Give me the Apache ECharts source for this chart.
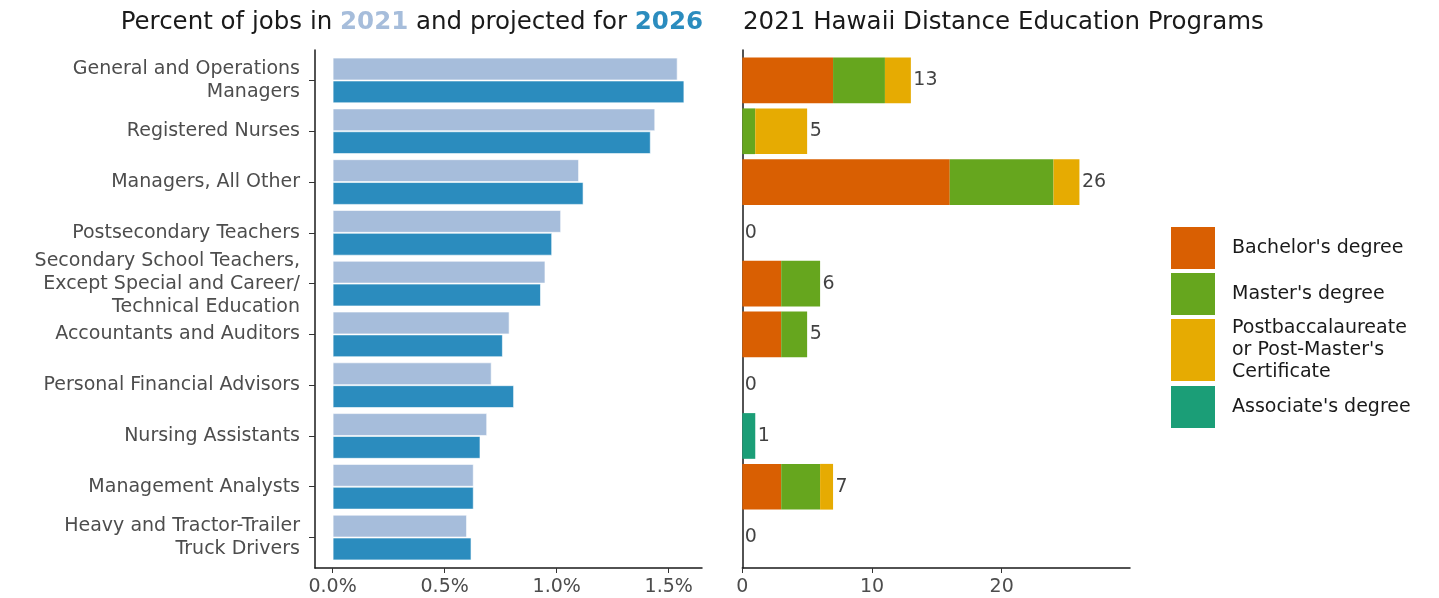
<!DOCTYPE html>
<html><head><meta charset="utf-8">
<script src="https://cdn.jsdelivr.net/npm/echarts@6/dist/echarts.min.js"></script>
<style>html,body{margin:0;padding:0;background:#fff}#c{width:1439px;height:598px}</style>
</head><body><div id="c"></div>
<script>
const categories = ["General and Operations\nManagers","Registered Nurses","Managers, All Other","Postsecondary Teachers","Secondary School Teachers,\nExcept Special and Career/\nTechnical Education","Accountants and Auditors","Personal Financial Advisors","Nursing Assistants","Management Analysts","Heavy and Tractor-Trailer\nTruck Drivers"];
const pct2021 = [1.54,1.44,1.10,1.02,0.95,0.79,0.71,0.69,0.63,0.60];
const pct2026 = [1.57,1.42,1.12,0.98,0.93,0.76,0.81,0.66,0.63,0.62];
const bachelor  = [7,0,16,0,3,3,0,0,3,0];
const master    = [4,1,8,0,3,2,0,0,3,0];
const postbacc  = [2,4,2,0,0,0,0,0,1,0];
const associate = [0,0,0,0,0,0,0,1,0,0];
const pctTicks = [0,0.5,1.0,1.5];
const progTicks = [0,10,20];
const degreeNames = ["Bachelor's degree","Master's degree","Postbaccalaureate or Post-Master's Certificate","Associate's degree"];

const FONT = 'DejaVu Sans';
const FS = 19;
const TFS = 24.5;
const W = 1439, H = 598;
const frameTop = 50, frameBottom = 568;
const unit = (frameBottom - frameTop) / (categories.length + 0.2);
const bandTop = frameTop + 0.1 * unit;
const bandH = categories.length * unit;
const padB = H - (bandTop + bandH);
const offB = frameBottom - (bandTop + bandH);
const Lx0 = 315, Lx1 = 702, Rx0 = 742.3, Rx1 = 1130;

const totals = categories.map((c, i) => bachelor[i] + master[i] + postbacc[i] + associate[i]);
const pctMax = Math.max(...pct2021, ...pct2026);
const totMax = Math.max(...totals);

const axisLineStyle = {color: '#1a1a1a', width: 1.5};
const chart = echarts.init(document.getElementById('c'), null, {renderer: 'canvas'});

const degreeColors = ['#d95f02', '#66a61e', '#e6ab02', '#1b9e77'];
const degreeData = [bachelor, master, postbacc, associate];

const legendTops = [227, 273, 317, 386];
const legendHeights = [42, 42, 62, 42];

chart.setOption({
  animation: false,
  textStyle: {fontFamily: FONT},
  title: [
    {text: 'Percent of jobs in {a|2021} and projected for {b|2026}', right: W - 703, top: 10, padding: 0,
     textStyle: {fontFamily: FONT, fontSize: TFS, fontWeight: 'normal', color: '#1a1a1a',
       rich: {a: {fontFamily: FONT, fontSize: TFS, fontWeight: 'bold', color: '#a6bddb'},
              b: {fontFamily: FONT, fontSize: TFS, fontWeight: 'bold', color: '#2b8cbe'}}}},
    {text: '2021 Hawaii Distance Education Programs', left: 743, top: 10, padding: 0,
     textStyle: {fontFamily: FONT, fontSize: TFS, fontWeight: 'normal', color: '#1a1a1a'}}
  ],
  legend: degreeNames.map((n, k) => ({
    data: [n], left: 1171, top: legendTops[k], padding: 0, orient: 'vertical',
    itemWidth: 44, itemHeight: legendHeights[k], icon: 'rect', selectedMode: false,
    formatter: nm => nm === degreeNames[2] ? "Postbaccalaureate\nor Post-Master's\nCertificate" : nm,
    textStyle: {fontFamily: FONT, fontSize: FS, color: '#1a1a1a', lineHeight: 22, padding: [0, 0, 0, 12]}
  })),
  grid: [
    {left: Lx0, right: W - Lx1, top: bandTop, bottom: padB},
    {left: Lx0, right: W - Lx1, top: frameTop, bottom: H - frameBottom},
    {left: Rx0, right: W - Rx1, top: bandTop, bottom: padB},
    {left: Rx0, right: W - Rx1, top: frameTop, bottom: H - frameBottom}
  ],
  xAxis: [
    {gridIndex: 0, type: 'value', min: -0.05 * pctMax, max: 1.05 * pctMax, offset: offB,
     axisLine: {show: true, onZero: false, lineStyle: axisLineStyle},
     axisTick: {show: true, length: 5, lineStyle: {color: '#333'}, customValues: pctTicks},
     axisLabel: {customValues: pctTicks, formatter: v => v.toFixed(1) + '%', fontSize: FS, color: '#4d4d4d', margin: 10, fontFamily: FONT},
     splitLine: {show: false}},
    {gridIndex: 1, type: 'value', show: false},
    {gridIndex: 2, type: 'value', min: 0, max: 1.15 * totMax, offset: offB,
     axisLine: {show: true, onZero: false, lineStyle: axisLineStyle},
     axisTick: {show: true, length: 5, lineStyle: {color: '#333'}, customValues: progTicks},
     axisLabel: {customValues: progTicks, fontSize: FS, color: '#4d4d4d', margin: 10, fontFamily: FONT},
     splitLine: {show: false}},
    {gridIndex: 3, type: 'value', show: false}
  ],
  yAxis: [
    {gridIndex: 0, type: 'category', data: categories, inverse: true,
     axisLine: {show: false, onZero: false},
     axisTick: {show: true, alignWithLabel: true, length: 6, lineStyle: {color: '#333'}},
     axisLabel: {fontSize: FS, color: '#4d4d4d', margin: 15, lineHeight: 23, align: 'right', fontFamily: FONT}},
    {gridIndex: 1, type: 'value', axisLine: {show: true, onZero: false, lineStyle: axisLineStyle},
     axisTick: {show: false}, axisLabel: {show: false}, splitLine: {show: false}},
    {gridIndex: 2, type: 'category', data: categories, inverse: true,
     axisLine: {show: false, onZero: false}, axisTick: {show: false}, axisLabel: {show: false}},
    {gridIndex: 3, type: 'value', axisLine: {show: true, onZero: false, lineStyle: axisLineStyle},
     axisTick: {show: false}, axisLabel: {show: false}, splitLine: {show: false}}
  ],
  series: [
    {name: '2021', type: 'bar', xAxisIndex: 0, yAxisIndex: 0, data: pct2021, barGap: '0%', barCategoryGap: '10%',
     itemStyle: {color: '#a6bddb', borderColor: 'rgba(255,255,255,0.6)', borderWidth: 1}},
    {name: '2026', type: 'bar', xAxisIndex: 0, yAxisIndex: 0, data: pct2026, barGap: '0%', barCategoryGap: '10%',
     itemStyle: {color: '#2b8cbe', borderColor: 'rgba(255,255,255,0.6)', borderWidth: 1}},
    ...degreeNames.map((n, k) => ({
      name: n, type: 'bar', stack: 'prog', xAxisIndex: 2, yAxisIndex: 2, data: degreeData[k],
      barWidth: '90%', itemStyle: {color: degreeColors[k]}
    })),
    {name: 'total', type: 'scatter', xAxisIndex: 2, yAxisIndex: 2,
     data: totals.map((t, i) => [t, i]), symbolSize: 1, itemStyle: {color: 'transparent'},
     label: {show: true, position: 'right', distance: 2, formatter: p => String(p.value[0]),
       fontSize: FS, color: '#111', fontFamily: FONT}}
  ]
});
</script></body></html>
